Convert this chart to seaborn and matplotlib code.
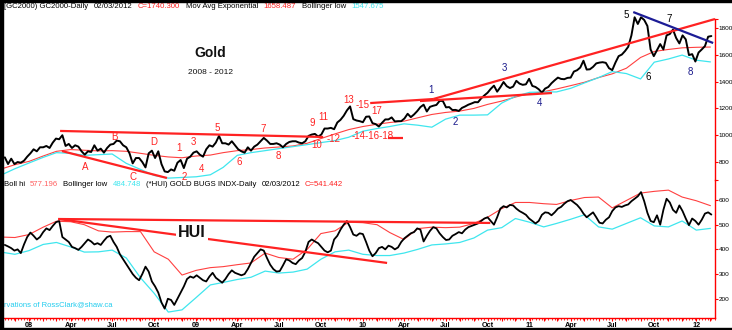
import numpy as np
import pandas as pd
import matplotlib
matplotlib.use("Agg")
import matplotlib.pyplot as plt
import matplotlib.dates as mdates
from matplotlib.patches import Rectangle
import seaborn as sns

# ---------------- DATA ----------------
# Gold weekly closes (Friday), Nov 2007 .. Feb 3 2012
gold_2007 = [835, 785, 825, 785, 800, 795, 810, 840]
gold_2008 = [865, 895, 880, 910, 910, 920, 905, 945, 975, 970, 1000, 920, 935,
             905, 925, 915, 880, 855, 880, 875, 925, 885, 900, 870, 905, 930,
             935, 960, 955, 925, 910, 865, 790, 830, 830, 800, 760, 865, 885,
             830, 880, 785, 730, 725, 745, 735, 795, 815, 755, 825, 840, 870]
gold_2009 = [880, 855, 840, 895, 925, 915, 945, 995, 940, 940, 930, 955, 925,
             895, 880, 870, 910, 885, 915, 930, 955, 980, 960, 935, 935, 940,
             930, 910, 935, 950, 955, 955, 945, 940, 955, 995, 1005, 1010, 990,
             1005, 1050, 1050, 1055, 1045, 1095, 1115, 1145, 1185, 1215, 1120,
             1110, 1105]
gold_2010 = [1097, 1138, 1140, 1090, 1083, 1065, 1093, 1118, 1118, 1133, 1103,
             1105, 1105, 1125, 1160, 1135, 1155, 1180, 1210, 1228, 1177, 1212,
             1220, 1226, 1256, 1256, 1208, 1210, 1188, 1189, 1181, 1204, 1215,
             1228, 1237, 1247, 1246, 1275, 1297, 1317, 1346, 1370, 1325, 1358,
             1397, 1366, 1352, 1363, 1406, 1385, 1376, 1380, 1421]
gold_2011 = [1368, 1360, 1343, 1318, 1348, 1360, 1388, 1410, 1430, 1420, 1418,
             1428, 1430, 1475, 1485, 1505, 1556, 1490, 1492, 1510, 1536, 1542,
             1545, 1540, 1500, 1486, 1542, 1590, 1602, 1628, 1660, 1745, 1880,
             1830, 1880, 1860, 1815, 1640, 1590, 1635, 1680, 1640, 1745, 1755,
             1788, 1725, 1685, 1745, 1715, 1598, 1605, 1550]
gold_2012 = [1617, 1640, 1665, 1735, 1740]

# HUI weekly closes, same weeks
hui = [418, 412, 405, 395, 400, 385, 420, 450, 468, 455, 440, 450, 470, 485,
       478, 495, 510, 515, 450, 440, 430, 410, 405, 398, 410, 425, 440, 432,
       420, 425, 418, 435, 450, 455, 430, 410, 380, 360, 340, 320, 300, 285,
       275, 300, 330, 310, 270, 250, 225, 185, 160, 200, 195, 175, 200, 225,
       250, 280, 290, 285, 295, 285, 275, 270, 290, 305, 285, 275, 265, 280,
       300, 315, 305, 300, 295, 300, 320, 345, 370, 385, 400, 395, 365, 338,
       320, 310, 312, 335, 360, 355, 345, 340, 355, 365, 390, 430, 440, 432,
       425, 410, 395, 388, 395, 440, 455, 480, 500, 515, 490, 460, 455, 465,
       462, 430, 395, 372, 385, 405, 410, 400, 415, 410, 400, 408, 430, 445,
       455, 465, 470, 485, 480, 432, 455, 475, 490, 485, 465, 450, 438, 440,
       455, 462, 470, 465, 480, 490, 495, 500, 505, 515, 525, 530, 515, 500,
       530, 565, 575, 570, 580, 578, 565, 555, 548, 540, 525, 515, 505, 515,
       540, 550, 548, 538, 550, 565, 572, 585, 595, 600, 590, 580, 565, 545,
       530, 540, 550, 530, 508, 505, 520, 530, 555, 570, 575, 572, 578, 582,
       595, 605, 615, 632, 595, 548, 515, 510, 538, 500, 560, 605, 590, 560,
       548, 578, 555, 525, 498, 525, 515, 500, 520, 545, 550, 541]

# Monthly indicator values, Nov 2007 .. Feb 2012 (month starts)
gold_ema = [748, 780,
            805, 845, 880, 893, 888, 883, 885, 880, 865, 850, 838, 832,
            845, 852, 870, 885, 893, 905, 912, 920, 940, 975, 1010, 1042,
            1065, 1082, 1095, 1105, 1130, 1155, 1170, 1180, 1200, 1230, 1255, 1285,
            1310, 1325, 1345, 1370, 1395, 1430, 1458, 1500, 1580, 1625, 1640, 1652,
            1656, 1658]
gold_boll_low = [703, 750,
                 793, 835, 870, 865, 850, 855, 860, 790, 745, 700, 680, 685,
                 690, 705, 760, 850, 870, 885, 900, 915, 930, 945, 960, 985,
                 1030, 1050, 1065, 1085, 1075, 1060, 1120, 1150, 1150, 1152, 1240, 1290,
                 1320, 1323, 1323, 1350, 1390, 1430, 1475, 1460, 1420, 1545, 1569, 1598,
                 1560, 1547]
hui_boll_hi = [450, 448,
               460, 490, 514, 512, 500, 475, 470, 472, 472, 390, 360, 296,
               315, 326, 330, 338, 345, 385, 367, 360, 400, 464, 475, 510,
               508, 500, 468, 440, 484, 490, 488, 490, 505, 530, 565, 590,
               590, 585, 582, 598, 610, 612, 568, 598, 628, 635, 640, 612,
               597, 577]
hui_boll_low = [389, 380,
                395, 420, 428, 410, 389, 390, 397, 365, 285, 222, 146, 155,
                205, 256, 266, 278, 287, 312, 304, 308, 320, 360, 390, 397,
                380, 375, 375, 385, 400, 418, 422, 428, 446, 478, 488, 525,
                510, 491, 505, 522, 540, 491, 482, 505, 528, 495, 491, 515,
                478, 485]

# Trendlines: (start date, value, end date, value, color)
gold_trend = [
    ("2008-03-09", 1032, "2009-10-06", 987, "red"),
    ("2008-03-13", 882, "2008-10-29", 681, "red"),
    ("2010-01-17", 1240, "2010-06-04", 1270, "red"),
    ("2010-06-04", 1270, "2012-02-11", 1867, "red"),
    ("2010-05-06", 1255, "2011-02-19", 1315, "red"),
    ("2010-02-25", 979, "2010-03-30", 979, "red"),
    ("2011-08-16", 1919, "2012-02-07", 1688, "navy"),
]
hui_trend = [
    ("2008-03-05", 523, "2010-10-07", 507),
    ("2008-03-05", 523, "2010-02-23", 345),
]
# Wave labels: (text, date, value, color)
gold_labels = [
    ("A", "2008-05-03", 763, "red"), ("B", "2008-07-05", 987, "red"),
    ("C", "2008-08-16", 688, "red"), ("D", "2008-09-29", 950, "red"),
    ("1", "2008-11-25", 905, "red"), ("2", "2008-12-06", 688, "red"),
    ("3", "2008-12-25", 950, "red"), ("4", "2009-01-12", 748, "red"),
    ("5", "2009-02-16", 1054, "red"), ("6", "2009-04-05", 800, "red"),
    ("7", "2009-05-27", 1047, "red"), ("8", "2009-06-29", 845, "red"),
    ("9", "2009-09-12", 1091, "red"), ("10", "2009-09-21", 927, "red"),
    ("11", "2009-10-06", 1136, "red"), ("-12", "2009-10-28", 972, "red"),
    ("13", "2009-11-30", 1263, "red"), ("-15", "2010-01-01", 1226, "red"),
    ("17", "2010-02-01", 1181, "red"),
    ("1", "2010-05-30", 1337, "blue"), ("2", "2010-07-22", 1099, "blue"),
    ("3", "2010-11-06", 1502, "blue"), ("4", "2011-01-22", 1240, "blue"),
    ("5", "2011-07-31", 1897, "black"), ("6", "2011-09-18", 1434, "black"),
    ("7", "2011-11-03", 1867, "black"), ("8", "2011-12-19", 1472, "blue"),
]
gold_ticks = [800, 1000, 1200, 1400, 1600, 1800]
hui_ticks = [200, 300, 400, 500, 600]

# ---------------- PLOT ----------------
sns.set_theme(style="white")
plt.rcParams["font.family"] = ["Liberation Sans", "DejaVu Sans"]

W, H = 732, 330
fig = plt.figure(figsize=(W / 100, H / 100), dpi=100)
fig.patch.set_facecolor("white")

ax1 = fig.add_axes([3 / W, 1 - 180 / H, 712 / W, 178 / H])
ax2 = fig.add_axes([3 / W, 1 - 318 / H, 712 / W, 138 / H])

gold = gold_2007 + gold_2008 + gold_2009 + gold_2010 + gold_2011 + gold_2012
weeks = pd.date_range(end="2012-02-03", periods=len(gold), freq="W-FRI")
months = pd.date_range("2007-11-01", periods=len(gold_ema), freq="MS")
xw = mdates.date2num(weeks)
xm = mdates.date2num(months)
dn = lambda s: mdates.date2num(pd.Timestamp(s))

RED = "#ff2222"
THIN_RED = "#ff4040"
CYAN = "#3fe6ee"
NAVY = "#1c1c96"
BLUE_TXT = "#1a1a8c"
LBL = 7

xlim = (dn("2007-11-05"), dn("2012-02-11"))

# top panel
sns.lineplot(x=xm, y=gold_ema, ax=ax1, color=THIN_RED, lw=0.8, zorder=2)
sns.lineplot(x=xm, y=gold_boll_low, ax=ax1, color=CYAN, lw=0.9, zorder=2)
sns.lineplot(x=xw, y=gold, ax=ax1, color="black", lw=1.4, zorder=3)
for d1, v1, d2, v2, c in gold_trend:
    ax1.plot([dn(d1), dn(d2)], [v1, v2], color=RED if c == "red" else NAVY,
             lw=1.6, solid_capstyle="butt", zorder=4)
colmap = {"red": RED, "blue": BLUE_TXT, "black": "black"}
for s, d, v, c in gold_labels:
    ax1.text(dn(d), v, s, color=colmap[c], fontsize=LBL, ha="center",
             va="center", zorder=5)
ax1.text(dn("2009-12-08"), 994, "-14-16-18", color=RED, fontsize=LBL,
         ha="left", va="center", zorder=5)

ax1.set_xlim(*xlim)
ax1.set_ylim(666, 1994)
ax1.yaxis.tick_right()
ax1.set_yticks(gold_ticks + [1867], labels=[str(t) for t in gold_ticks] + [""])
ax1.tick_params(axis="y", direction="out", length=2.5, width=0.8, color="red",
                labelsize=4.6, labelcolor="black", pad=0.3, right=True, left=False)
ax1.tick_params(axis="x", bottom=False, labelbottom=False)
for sp in ["top", "left", "bottom"]:
    ax1.spines[sp].set_visible(False)
ax1.spines["right"].set_color("red")
ax1.spines["right"].set_linewidth(1.0)
ax1.spines["right"].set_bounds(666, 1867)
ax1.set_xlabel("")
ax1.set_ylabel("")
ax1.patch.set_alpha(0)

# bottom panel
sns.lineplot(x=xm, y=hui_boll_hi, ax=ax2, color=THIN_RED, lw=0.8, zorder=2)
sns.lineplot(x=xm, y=hui_boll_low, ax=ax2, color=CYAN, lw=0.9, zorder=2)
sns.lineplot(x=xw, y=hui, ax=ax2, color="black", lw=1.3, zorder=3)
for d1, v1, d2, v2 in hui_trend:
    ax2.plot([dn(d1), dn(d2)], [v1, v2], color=RED, lw=1.6,
             solid_capstyle="butt", zorder=4)
ax2.text(dn("2008-12-23"), 470, "HUI", fontsize=11.5, fontweight="bold",
         color="#111111", ha="center", va="center", zorder=6,
         bbox=dict(facecolor="white", edgecolor="none", pad=1.5))

ax2.set_xlim(*xlim)
ax2.set_ylim(122, 681)
ax2.yaxis.tick_right()
ax2.set_yticks(hui_ticks + [681], labels=[str(t) for t in hui_ticks] + [""])
ax2.tick_params(axis="y", direction="out", length=2.5, width=0.8, color="red",
                labelsize=4.6, labelcolor="black", pad=0.3, right=True, left=False)
month_ticks = pd.date_range("2007-12-01", "2012-02-01", freq="MS")
mlabels = []
for m in month_ticks:
    if m.month == 1:
        mlabels.append(m.strftime("%y"))
    elif m.month in (4, 7, 10):
        mlabels.append(m.strftime("%b"))
    else:
        mlabels.append("")
ax2.set_xticks(mdates.date2num(month_ticks), labels=mlabels, fontweight="bold")
minor_ticks = pd.date_range("2007-11-09", "2012-02-10", freq="W-FRI")
ax2.set_xticks(mdates.date2num(minor_ticks), minor=True)
ax2.tick_params(axis="x", which="major", direction="out", length=2.5, width=0.8,
                color="red", labelsize=5.2, labelcolor="black", pad=0.2,
                bottom=True)
ax2.tick_params(axis="x", which="minor", direction="out", length=1.5, width=0.6,
                color="red", bottom=True)
for sp in ["top", "left"]:
    ax2.spines[sp].set_visible(False)
for sp in ["right", "bottom"]:
    ax2.spines[sp].set_color("red")
    ax2.spines[sp].set_linewidth(1.0)
ax2.set_xlabel("")
ax2.set_ylabel("")
ax2.patch.set_alpha(0)

# ---------------- TEXT ----------------
renderer = fig.canvas.get_renderer()

def ftxt(px, py, s, **kw):
    kw.setdefault("va", "center")
    kw.setdefault("ha", "left")
    kw.setdefault("fontsize", 5.6)
    return fig.text(px / W, 1 - py / H, s, **kw)

def header(px, py, parts, gap):
    x = px
    for s, c in parts:
        t = ftxt(x, py, s, color=c)
        x += t.get_window_extent(renderer).width + gap

header(4, 7, [("[GC2000) GC2000-Daily", "black"), ("02/03/2012", "black"),
              ("C=1740.300", RED), ("Mov Avg Exponential", "black"),
              ("1658.487", RED), ("Bollinger low", "black"),
              ("1547.675", CYAN)], 5.5)
header(4, 185, [("Boll hi", "black"), ("577.196", "#ff6060"),
                ("Bollinger low", "black"), ("484.748", CYAN),
                ("(*HUI) GOLD BUGS INDX-Daily", "black"),
                ("02/03/2012", "black"), ("C=541.442", RED)], 5.0)

ftxt(210, 53, "Gold", ha="center", fontsize=10, fontweight="bold", color="#111111")
ftxt(210, 72, "2008 - 2012", ha="center", fontsize=6, color="#111111")
ftxt(4, 305, "rvations of RossClark@shaw.ca", color="#22ccee", fontsize=5.5)

# frame bars
for (x0, y0, w, h) in [(0, 0, 2.5, H), (0, 0, W, 2), (0, H - 2.5, W, 2.5)]:
    fig.patches.append(Rectangle((x0 / W, 1 - (y0 + h) / H), w / W, h / H,
                                 transform=fig.transFigure, color="black",
                                 zorder=10))

fig.savefig("out.png", dpi=100)
